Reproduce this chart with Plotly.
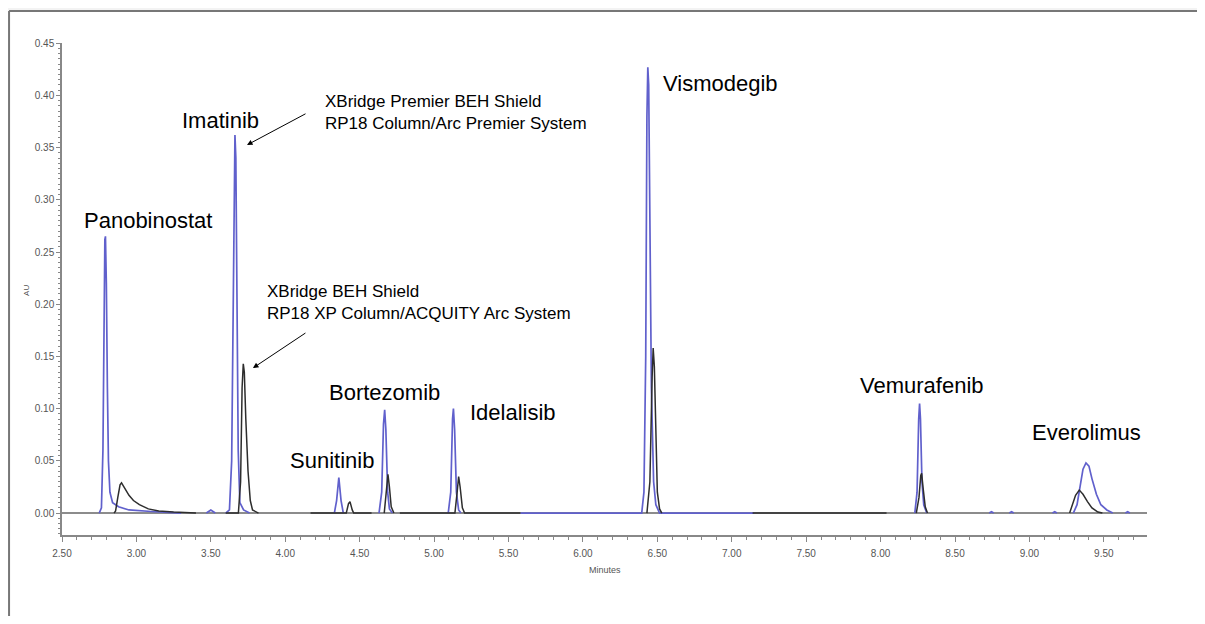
import plotly.graph_objects as go

# ---------------- data ----------------
# Blue trace: XBridge Premier BEH Shield RP18 Column / Arc Premier System
blue_x = [2.750, 2.765, 2.775, 2.782, 2.788, 2.792, 2.798, 2.805, 2.812, 2.822, 2.840, 2.880, 2.950, 3.100, 3.300, None,
          3.470, 3.500, 3.530, None,
          3.600, 3.625, 3.640, 3.652, 3.658, 3.662, 3.668, 3.676, 3.684, 3.695, 3.720, 3.760, None,
          4.330, 4.345, 4.360, 4.375, 4.390, None,
          4.630, 4.648, 4.660, 4.668, 4.676, 4.688, 4.700, 4.720, None,
          5.095, 5.112, 5.124, 5.130, 5.138, 5.150, 5.165, 5.180, None,
          5.580, 6.395, 6.410, 6.422, 6.430, 6.436, 6.442, 6.450, 6.460, 6.475, 6.490, 6.515, 7.150, None,
          8.230, 8.245, 8.256, 8.262, 8.268, 8.278, 8.290, 8.310, None,
          8.730, 8.745, 8.760, None,
          8.865, 8.880, 8.895, None,
          9.155, 9.170, 9.185, None,
          9.295, 9.320, 9.340, 9.360, 9.380, 9.400, 9.420, 9.450, 9.480, 9.520, 9.560, None,
          9.645, 9.660, 9.675]
blue_y = [0.000, 0.005, 0.060, 0.200, 0.262, 0.265, 0.220, 0.120, 0.050, 0.020, 0.010, 0.006, 0.003, 0.0015, 0.000, None,
          0.000, 0.003, 0.000, None,
          0.000, 0.003, 0.050, 0.250, 0.350, 0.362, 0.340, 0.200, 0.060, 0.010, 0.003, 0.000, None,
          0.000, 0.012, 0.034, 0.012, 0.000, None,
          0.000, 0.020, 0.085, 0.099, 0.080, 0.020, 0.004, 0.000, None,
          0.000, 0.020, 0.090, 0.100, 0.080, 0.020, 0.003, 0.000, None,
          0.000, 0.000, 0.020, 0.150, 0.380, 0.427, 0.410, 0.300, 0.120, 0.030, 0.008, 0.000, 0.000, None,
          0.000, 0.020, 0.090, 0.105, 0.090, 0.030, 0.008, 0.000, None,
          0.000, 0.0012, 0.000, None,
          0.000, 0.0012, 0.000, None,
          0.000, 0.0012, 0.000, None,
          0.000, 0.008, 0.025, 0.042, 0.048, 0.045, 0.033, 0.018, 0.008, 0.003, 0.000, None,
          0.000, 0.0012, 0.000]

# Black trace: XBridge BEH Shield RP18 XP Column / ACQUITY Arc System
black_x = [2.850, 2.860, 2.875, 2.890, 2.900, 2.920, 2.950, 2.980, 3.020, 3.080, 3.150, 3.250, 3.400, None,
           3.600, 3.685, 3.700, 3.710, 3.718, 3.725, 3.735, 3.750, 3.765, 3.780, 3.820, None,
           4.170, 4.410, 4.425, 4.435, 4.450, 4.460, 4.580, None,
           4.665, 4.680, 4.690, 4.700, 4.712, 4.730, None,
           4.770, 5.140, 5.155, 5.165, 5.175, 5.190, 5.205, 5.580, None,
           6.430, 6.450, 6.465, 6.472, 6.480, 6.490, 6.500, 6.515, 6.530, None,
           7.140, 8.040, None,
           8.240, 8.258, 8.270, 8.276, 8.285, 8.300, 8.315, None,
           9.270, 9.290, 9.310, 9.335, 9.360, 9.390, 9.420, 9.460, 9.490]
black_y = [0.000, 0.002, 0.015, 0.027, 0.029, 0.024, 0.017, 0.012, 0.008, 0.004, 0.002, 0.001, 0.000, None,
           0.000, 0.000, 0.030, 0.120, 0.143, 0.135, 0.090, 0.040, 0.012, 0.003, 0.000, None,
           0.000, 0.000, 0.009, 0.011, 0.003, 0.000, 0.000, None,
           0.000, 0.020, 0.037, 0.025, 0.006, 0.000, None,
           0.000, 0.000, 0.020, 0.035, 0.025, 0.005, 0.000, 0.000, None,
           0.000, 0.030, 0.130, 0.158, 0.140, 0.070, 0.020, 0.004, 0.000, None,
           0.000, 0.000, None,
           0.000, 0.015, 0.036, 0.038, 0.025, 0.006, 0.000, None,
           0.000, 0.008, 0.017, 0.022, 0.018, 0.011, 0.005, 0.001, 0.000]

compounds = ["Panobinostat", "Imatinib", "Sunitinib", "Bortezomib", "Idelalisib",
             "Vismodegib", "Vemurafenib", "Everolimus"]
system_labels = ["XBridge Premier BEH Shield<br>RP18 Column/Arc Premier System",
                 "XBridge BEH Shield<br>RP18 XP Column/ACQUITY Arc System"]
x_ticks = [2.5, 3.0, 3.5, 4.0, 4.5, 5.0, 5.5, 6.0, 6.5, 7.0, 7.5, 8.0, 8.5, 9.0, 9.5]
y_ticks = [0.00, 0.05, 0.10, 0.15, 0.20, 0.25, 0.30, 0.35, 0.40, 0.45]

# ---------------- layout settings ----------------
label_pos = [(2.634, 0.2806), (3.293, 0.3762), (4.018, 0.0504), (4.280, 0.1159),
             (5.228, 0.0968), (6.524, 0.4117), (7.845, 0.1226), (9.004, 0.0767)]
system_pos = [(4.2535, 0.3835), (3.864, 0.2016)]
arrow_heads = [(3.743, 0.3525, 60, -32), (3.783, 0.1389, 54, -36)]

FONT = "Arial, Liberation Sans, sans-serif"
fig = go.Figure()
fig.add_trace(go.Scatter(x=blue_x, y=blue_y, mode="lines", connectgaps=False,
                         line=dict(color="rgb(96,96,204)", width=1.7), hoverinfo="skip"))
fig.add_trace(go.Scatter(x=black_x, y=black_y, mode="lines", connectgaps=False,
                         line=dict(color="rgb(45,45,45)", width=1.5), hoverinfo="skip"))

ann = []
for name, (lx, ly) in zip(compounds, label_pos):
    ann.append(dict(x=lx, y=ly, xref="x", yref="y", text=name, showarrow=False,
                    xanchor="left", yanchor="middle", font=dict(family=FONT, size=22, color="black")))
for txt, (lx, ly) in zip(system_labels, system_pos):
    ann.append(dict(x=lx, y=ly, xref="x", yref="y", text=txt, showarrow=False, align="left",
                    xanchor="left", yanchor="middle", font=dict(family=FONT, size=17, color="black")))
for hx, hy, ax, ay in arrow_heads:
    ann.append(dict(x=hx, y=hy, xref="x", yref="y", text="", showarrow=True, ax=ax, ay=ay,
                    arrowhead=2, arrowsize=1.1, arrowwidth=1, arrowcolor="black", standoff=0))
ann.append(dict(x=0.5, y=-0.0711, xref="paper", yref="paper", text="Minutes", showarrow=False,
                xanchor="center", yanchor="middle", font=dict(family=FONT, size=9, color="#555")))
ann.append(dict(x=-0.0323, y=0.498, xref="paper", yref="paper", text="AU", showarrow=False, textangle=-90,
                xanchor="center", yanchor="middle", font=dict(family=FONT, size=8, color="#555")))

# the page body adds an 8px offset, so the figure is sized to fit inside the window
BOX_L, BOX_T = -0.0488, 1.065
fig.update_layout(
    width=1189, height=608, autosize=False,
    margin=dict(l=54, r=50, t=35, b=81, pad=0),
    paper_bgcolor="white", plot_bgcolor="white",
    showlegend=False,
    annotations=ann,
    shapes=[
        dict(type="rect", xref="paper", yref="paper", x0=-0.06, x1=1.1, y0=BOX_T, y1=1.2,
             fillcolor="#f3f3f3", line=dict(width=0), layer="below"),
        dict(type="line", xref="paper", yref="paper", x0=BOX_L, x1=1.1, y0=BOX_T, y1=BOX_T,
             line=dict(color="#777", width=2)),
        dict(type="line", xref="paper", yref="paper", x0=BOX_L, x1=BOX_L, y0=-0.3, y1=BOX_T,
             line=dict(color="#777", width=2)),
    ],
    xaxis=dict(range=[2.5, 9.79], tickvals=x_ticks, ticktext=[f"{v:.2f}" for v in x_ticks],
               showgrid=False, zeroline=False, showline=True, linecolor="#888", linewidth=1.5,
               ticks="outside", ticklen=5, tickcolor="#888", tickwidth=1.2,
               tickfont=dict(family=FONT, size=10, color="#555"), ticklabelstandoff=3,
               minor=dict(dtick=0.1, tick0=2.5, ticks="outside", ticklen=3, tickcolor="#888", tickwidth=1)),
    yaxis=dict(range=[-0.021, 0.4502], tickvals=y_ticks, ticktext=[f"{v:.2f}" for v in y_ticks],
               showgrid=False, zeroline=True, zerolinecolor="#8c8c8c", zerolinewidth=1.6,
               showline=True, linecolor="#888", linewidth=1.5,
               ticks="outside", ticklen=4, tickcolor="#888", tickwidth=1.2,
               tickfont=dict(family=FONT, size=10, color="#555"),
               minor=dict(dtick=0.005, tick0=0, ticks="outside", ticklen=2, tickcolor="#888", tickwidth=1)),
)
fig.write_html("out.html")
